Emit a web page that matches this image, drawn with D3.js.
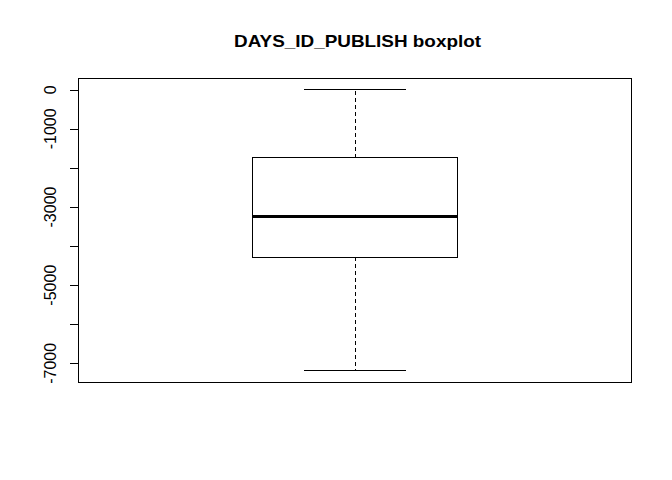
<!DOCTYPE html>
<html>
<head>
<meta charset="utf-8">
<script src="https://cdn.jsdelivr.net/npm/d3@7"></script>
<style>
  body { margin: 0; background: #fff; }
  svg { display: block; }
  line, rect { shape-rendering: crispEdges; }
</style>
</head>
<body>
<div id="chart"></div>
<script>
// Data (five-number summary)
const categories = ["DAYS_ID_PUBLISH"];
const whiskerLow = [-7189];
const q1 = [-4285];
const medians = [-3245];
const q3 = [-1740];
const whiskerHigh = [0];
const yTicks = [0, -1000, -2000, -3000, -4000, -5000, -6000, -7000];
const yTickLabels = ["0", "-1000", "", "-3000", "", "-5000", "", "-7000"];
const title = "DAYS_ID_PUBLISH boxplot";

(function () {
const W = 672, H = 480;
const mLeft = 78.5, mRight = 631.5, mTop = 78.5, mBottom = 382;

const svg = d3.select("#chart").append("svg").attr("width", W).attr("height", H);

// R-style 4% range extension
const yMin = d3.min(whiskerLow), yMax = d3.max(whiskerHigh);
const pad = (yMax - yMin) * 0.04;
const y = d3.scaleLinear().domain([yMin - pad, yMax + pad]).range([mBottom, mTop]);
const x = d3.scaleLinear().domain([0.46, 1.54]).range([mLeft, mRight]);

// Plot frame
svg.append("rect")
  .attr("x", mLeft).attr("y", mTop)
  .attr("width", mRight - mLeft).attr("height", mBottom - mTop)
  .attr("fill", "none").attr("stroke", "#000").attr("stroke-width", 1);

// Y axis
const axis = d3.axisLeft(y).tickValues(yTicks).tickSize(9).tickFormat("");
const gy = svg.append("g").attr("transform", `translate(${mLeft},0)`).call(axis);
gy.select(".domain").remove();
gy.selectAll(".tick line").attr("stroke", "#000");

svg.append("g").selectAll("text")
  .data(yTicks)
  .join("text")
  .attr("transform", d => `translate(56,${y(d)}) rotate(-90)`)
  .attr("text-anchor", "middle")
  .attr("font-family", "Liberation Sans, Arial, sans-serif")
  .attr("font-size", "16px")
  .attr("fill", "#000")
  .text((d, i) => yTickLabels[i]);

// Boxes
const boxHalf = 0.2, capHalf = 0.1;
categories.forEach((c, i) => {
  const cx = i + 1;
  const g = svg.append("g");
  // whiskers
  g.append("line")
    .attr("x1", x(cx) + 0.5).attr("x2", x(cx) + 0.5)
    .attr("y1", y(q3[i])).attr("y2", y(whiskerHigh[i]))
    .attr("stroke", "#000").attr("stroke-dasharray", "4,3");
  g.append("line")
    .attr("x1", x(cx) + 0.5).attr("x2", x(cx) + 0.5)
    .attr("y1", y(q1[i])).attr("y2", y(whiskerLow[i]))
    .attr("stroke", "#000").attr("stroke-dasharray", "4,3");
  // caps
  [whiskerHigh[i], whiskerLow[i]].forEach(v => {
    g.append("line")
      .attr("x1", x(cx - capHalf)).attr("x2", x(cx + capHalf))
      .attr("y1", y(v)).attr("y2", y(v))
      .attr("stroke", "#000").attr("stroke-width", 1);
  });
  // box
  g.append("rect")
    .attr("x", x(cx - boxHalf)).attr("y", y(q3[i]))
    .attr("width", x(cx + boxHalf) - x(cx - boxHalf))
    .attr("height", y(q1[i]) - y(q3[i]))
    .attr("fill", "none").attr("stroke", "#000").attr("stroke-width", 1);
  // median
  g.append("line")
    .attr("x1", x(cx - boxHalf)).attr("x2", x(cx + boxHalf))
    .attr("y1", y(medians[i])).attr("y2", y(medians[i]))
    .attr("stroke", "#000").attr("stroke-width", 3);
});

// Title
svg.append("text")
  .attr("x", 357.5)
  .attr("y", 47)
  .attr("text-anchor", "middle")
  .attr("font-family", "Liberation Sans, Arial, sans-serif")
  .attr("font-weight", "bold")
  .attr("font-size", "17px")
  .attr("textLength", 247)
  .attr("lengthAdjust", "spacingAndGlyphs")
  .attr("fill", "#000")
  .text(title);
})();
</script>
</body>
</html>
